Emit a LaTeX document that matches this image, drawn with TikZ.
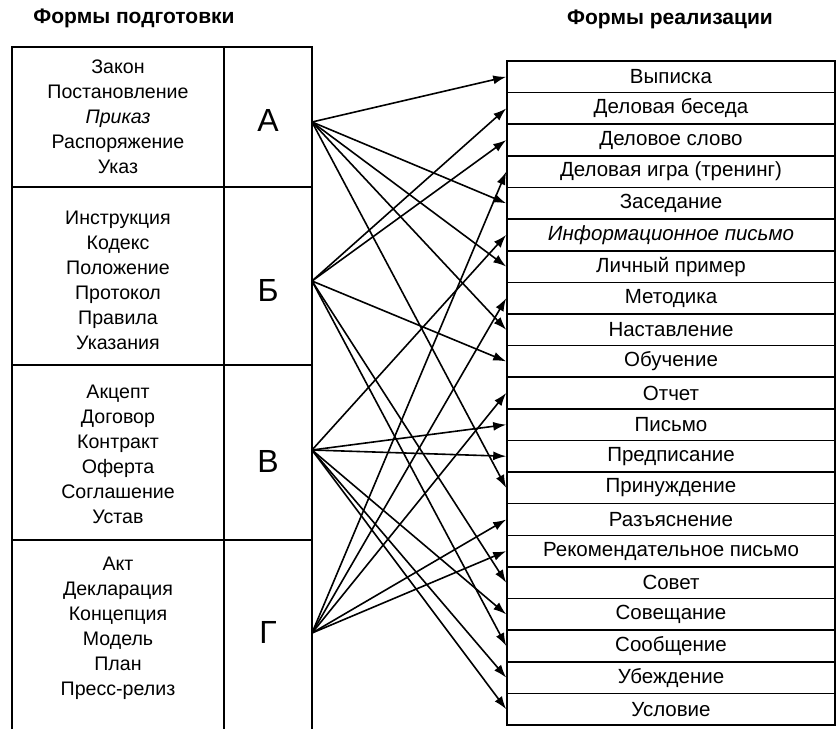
\documentclass[tikz,border=0pt]{standalone}
\usepackage{fontspec}
\setmainfont{Liberation Sans}
\usetikzlibrary{arrows.meta,positioning}
\tikzset{
  frame/.style={line width=1.7pt},
  heading/.style={font=\fontsize{21}{25}\selectfont\bfseries},
  groupText/.style={align=center,font=\fontsize{19.6}{25}\selectfont},
  letter/.style={font=\fontsize{32}{32}\selectfont},
  formBox/.style={
    rectangle,
    draw,
    line width=1.6pt,
    minimum width=328pt,
    minimum height=31.62pt,
    inner sep=0pt,
    font=\fontsize{20.5}{24}\selectfont
  },
  link/.style={-{Latex[length=13pt,width=9pt]},line width=1.6pt}
}

\begin{document}
\begin{tikzpicture}[x=1pt,y=-1pt]
  \useasboundingbox (0,0) rectangle (837,729);

  % headings
  \node[heading] (headPrep) at (134,18) {Формы подготовки};
  \node[heading] (headReal) at (670,19) {Формы реализации};

  % left table (open at the bottom)
  \draw[frame] (12,729) -- (12,47) -- (312,47) -- (312,729);
  \draw[frame] (224,47) -- (224,729);
  \foreach \y in {187,365,540}
    \draw[frame] (12,\y) -- (312,\y);

  \node[groupText] (grpA) at (118,117) {
    Закон\\Постановление\\\textit{Приказ}\\Распоряжение\\Указ
  };
  \node[groupText] (grpB) at (118,280) {
    Инструкция\\Кодекс\\Положение\\Протокол\\Правила\\Указания
  };
  \node[groupText] (grpV) at (118,454) {
    Акцепт\\Договор\\Контракт\\Оферта\\Соглашение\\Устав
  };
  \node[groupText] (grpG) at (118,628) {
    Акт\\Декларация\\Концепция\\Модель\\План\\Пресс-релиз
  };

  \node[letter] (letA) at (268,120) {А};
  \node[letter] (letB) at (268,290) {Б};
  \node[letter] (letV) at (268,461) {В};
  \node[letter] (letG) at (268,632) {Г};

  \coordinate (srcA) at (312,122);
  \coordinate (srcB) at (312,281);
  \coordinate (srcV) at (312,450);
  \coordinate (srcG) at (312,633);

  % right column
  \foreach \name [count=\i] in {
    Выписка, Деловая беседа, Деловое слово, Деловая игра (тренинг),
    Заседание, {\itshape Информационное письмо}, Личный пример, Методика,
    Наставление, Обучение, Отчет, Письмо, Предписание, Принуждение,
    Разъяснение, Рекомендательное письмо, Совет, Совещание, Сообщение,
    Убеждение, Условие}
    \node[formBox] (form\i) at (671,{61+31.62*(\i-0.5)}) {\name};

  % links
  \foreach \s/\t in {
    srcA/1, srcA/5, srcA/7, srcA/9, srcA/14,
    srcB/2, srcB/3, srcB/10, srcB/17, srcB/19,
    srcV/6, srcV/12, srcV/13, srcV/18, srcV/20, srcV/21,
    srcG/4, srcG/8, srcG/11, srcG/15, srcG/16}
    \draw[link] (\s) -- (form\t.west);
\end{tikzpicture}
\end{document}
